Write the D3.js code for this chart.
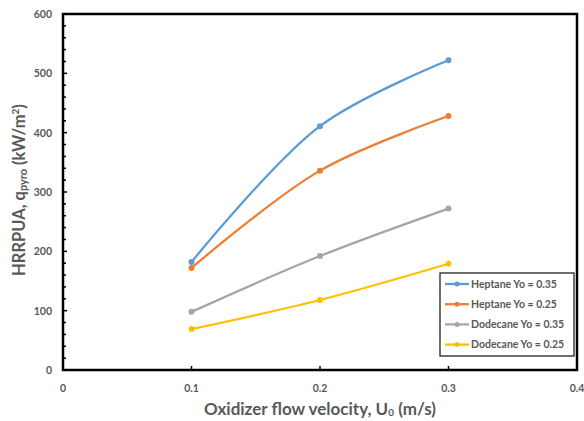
<!DOCTYPE html>
<html>
<head>
<meta charset="utf-8">
<script src="https://cdn.jsdelivr.net/npm/d3@7"></script>
<style>
  body { margin:0; background:#fff; }
  svg text { font-family: Lato, "Open Sans", sans-serif; font-weight:700; fill:#595959; }
</style>
</head>
<body>
<svg id="chart" width="584" height="421"></svg>
<script>
// data
const velocities = [0.1, 0.2, 0.3];
const seriesNames = ['Heptane Yo = 0.35', 'Heptane Yo = 0.25', 'Dodecane Yo = 0.35', 'Dodecane Yo = 0.25'];
const heptane35  = [182, 411, 522];
const heptane25  = [172, 336, 428];
const dodecane35 = [98, 192, 272];
const dodecane25 = [69, 118, 179];
const xTicks = [0, 0.1, 0.2, 0.3, 0.4];
const yTicks = [0, 100, 200, 300, 400, 500, 600];

const seriesVals = [heptane35, heptane25, dodecane35, dodecane25];
const colors = ['#5B9BD5', '#ED7D31', '#A5A5A5', '#FFC000'];

const svg = d3.select('#chart');
const L = 63, R = 577, T = 14, B = 370;

const x = d3.scaleLinear().domain([0, 0.4]).range([L, R]);
const y = d3.scaleLinear().domain([0, 600]).range([B, T]);

// minor ticks on y (inside)
const gy = svg.append('g');
d3.range(20, 600, 20).filter(v => v % 100 !== 0).forEach(v => {
  gy.append('line').attr('x1', L).attr('x2', L + 3).attr('y1', y(v)).attr('y2', y(v))
    .attr('stroke', '#000').attr('stroke-width', 1.5);
});
yTicks.forEach(v => {
  gy.append('line').attr('x1', L).attr('x2', L + 4).attr('y1', y(v)).attr('y2', y(v))
    .attr('stroke', '#000').attr('stroke-width', 1.5);
  gy.append('text').attr('x', 52).attr('y', y(v) + 4)
    .attr('text-anchor', 'end').attr('font-size', 10.5).text(v);
});

// x ticks (inside)
const gx = svg.append('g');
xTicks.forEach(v => {
  gx.append('line').attr('x1', x(v)).attr('x2', x(v)).attr('y1', B).attr('y2', B - 4)
    .attr('stroke', '#000').attr('stroke-width', 1.5);
  gx.append('text').attr('x', x(v)).attr('y', 392)
    .attr('text-anchor', 'middle').attr('font-size', 10.5).text(v);
});

// frame
svg.append('rect').attr('x', L).attr('y', T).attr('width', R - L).attr('height', B - T)
  .attr('fill', 'none').attr('stroke', '#000').attr('stroke-width', 2.5);

// series
const line = d3.line().x(d => x(d[0])).y(d => y(d[1])).curve(d3.curveCatmullRom.alpha(0.5));
seriesVals.forEach((vals, i) => {
  const pts = velocities.map((v, j) => [v, vals[j]]);
  svg.append('path').datum(pts).attr('d', line)
    .attr('fill', 'none').attr('stroke', colors[i]).attr('stroke-width', 2.25);
  svg.selectAll(null).data(pts).enter().append('circle')
    .attr('cx', d => x(d[0])).attr('cy', d => y(d[1])).attr('r', 3)
    .attr('fill', colors[i]);
});

// legend
const lg = svg.append('g');
lg.append('rect').attr('x', 440).attr('y', 273).attr('width', 134).attr('height', 83)
  .attr('fill', '#fff').attr('stroke', '#222').attr('stroke-width', 1.3);
seriesNames.forEach((name, i) => {
  const ly = 284 + i * 20.2;
  lg.append('line').attr('x1', 445).attr('x2', 469).attr('y1', ly).attr('y2', ly)
    .attr('stroke', colors[i]).attr('stroke-width', 2.25);
  lg.append('circle').attr('cx', 457).attr('cy', ly).attr('r', 2.5).attr('fill', colors[i]);
  lg.append('text').attr('x', 471).attr('y', ly + 3.5).attr('font-size', 10.5).text(name);
});

// axis titles
const xt = svg.append('text').attr('x', 320).attr('y', 415)
  .attr('text-anchor', 'middle').attr('font-size', 17);
xt.append('tspan').text('Oxidizer flow velocity, U');
xt.append('tspan').attr('font-size', 10).attr('dy', 1).text('0');
xt.append('tspan').attr('dy', -1).text(' (m/s)');

const yt = svg.append('text').attr('transform', 'translate(25,190) rotate(-90)')
  .attr('text-anchor', 'middle').attr('font-size', 16.5);
yt.append('tspan').text('HRRPUA, q');
yt.append('tspan').attr('font-size', 11).attr('dy', 2).text('pyro');
yt.append('tspan').attr('dy', -2).text(' (kW/m');
yt.append('tspan').attr('font-size', 10).attr('dy', -6).text('2');
yt.append('tspan').attr('dy', 6).text(')');
</script>
</body>
</html>
